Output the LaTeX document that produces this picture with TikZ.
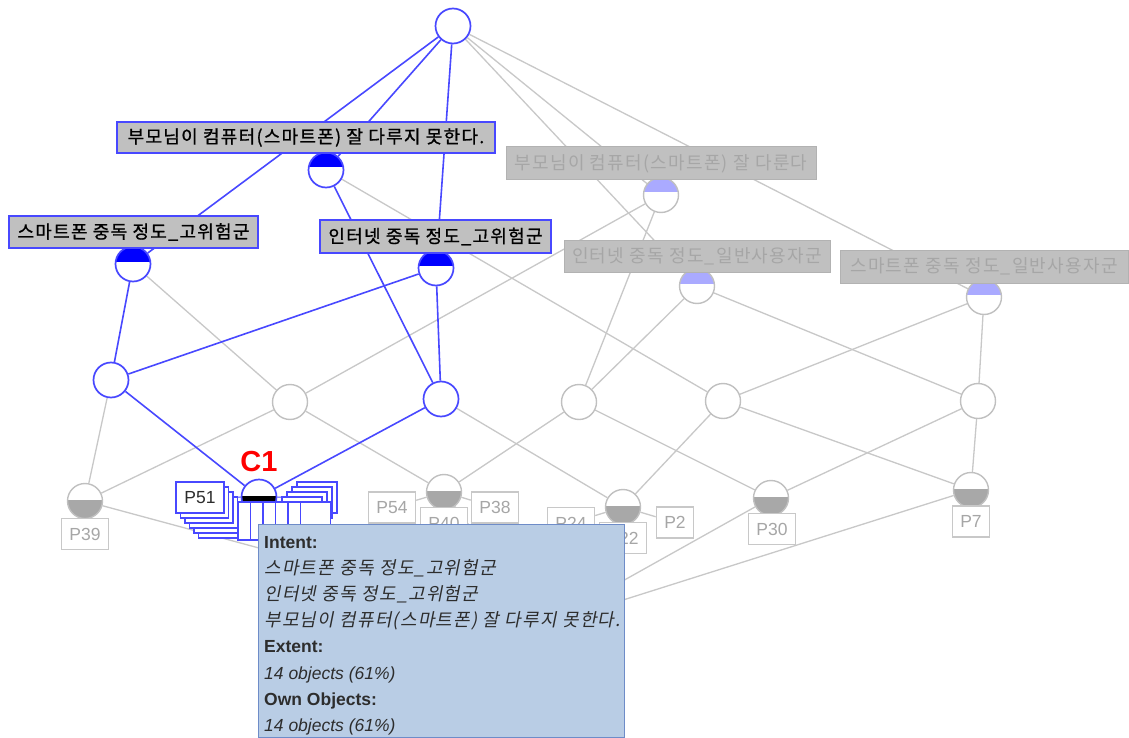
\documentclass[tikz,border=0pt]{standalone}
\usepackage{fontspec}
\setmainfont{Liberation Sans}
\newfontfamily\kr[LetterSpace=7]{Noto Sans CJK KR}
\newfontfamily\krb[LetterSpace=7,FakeBold=1]{Noto Sans CJK KR}
\newfontfamily\krit[LetterSpace=7,FakeSlant=0.2]{Noto Sans CJK KR}
\pgfdeclarelayer{edges}
\pgfdeclarelayer{top}
\pgfsetlayers{edges,main,top}
\definecolor{eblue}{RGB}{72,72,255}
\definecolor{fblue}{RGB}{0,0,255}
\definecolor{lblue}{RGB}{170,170,255}
\definecolor{egray}{RGB}{200,200,200}
\definecolor{cgray}{RGB}{192,192,192}
\definecolor{dgray}{RGB}{168,168,168}
\definecolor{boxgray}{RGB}{192,192,192}
\definecolor{boxline}{RGB}{178,178,178}
\definecolor{gtext}{RGB}{166,166,166}
\definecolor{tipfill}{RGB}{185,205,229}
\definecolor{tipline}{RGB}{110,140,200}
\definecolor{tiptext}{RGB}{45,45,45}
\tikzset{
  cn/.style={circle, minimum size=35pt, inner sep=0pt, fill=white, draw=cgray, line width=1.4pt},
  bn/.style={cn, draw=eblue, line width=1.7pt},
  topfill/.style={path picture={\fill[#1] (path picture bounding box.north west) rectangle ([yshift=2.5pt]path picture bounding box.east);}},
  botfill/.style={path picture={\fill[#1] ([yshift=1pt]path picture bounding box.west) rectangle (path picture bounding box.south east);}},
  lblA/.style={draw=eblue, line width=1.7pt, fill=boxgray, text=black, inner sep=0pt, font=\krb\fontsize{18}{20}\selectfont},
  lblG/.style={draw=boxline, line width=1pt, fill=boxgray, text=gtext, inner sep=0pt, font=\kr\fontsize{18}{20}\selectfont},
  pbox/.style={draw=egray, line width=1.3pt, fill=white, text=gtext, inner xsep=8pt, inner ysep=0pt, minimum height=31pt, font=\fontsize{17.5}{18}\selectfont},
  cbox/.style={draw=eblue, line width=1.3pt, fill=white, inner sep=0pt, minimum width=48pt, minimum height=31pt, text=tiptext, font=\fontsize{17.5}{18}\selectfont},
  ge/.style={draw=egray, line width=1.3pt},
  be/.style={draw=eblue, line width=1.6pt},
  tiphead/.style={anchor=base west, inner sep=0pt, text=tiptext, font=\bfseries\fontsize{17.5}{18}\selectfont},
  tipkr/.style={anchor=base west, inner sep=0pt, text=tiptext, font=\krit\fontsize{18}{20}\selectfont},
  tipit/.style={anchor=base west, inner sep=0pt, text=tiptext, font=\itshape\fontsize{17.5}{18}\selectfont},
}
\begin{document}
\begin{tikzpicture}[x=1pt,y=-1pt]
\useasboundingbox (0,0) rectangle (1129,738);
\begin{pgfonlayer}{edges}
\fill[white] (0,0) rectangle (1129,738);
\end{pgfonlayer}
% concept circles
\node[bn] (T) at (453,26) {};
\node[bn, topfill=fblue] (A) at (326,170) {};
\node[bn, topfill=fblue] (B) at (133,264) {};
\node[bn, topfill=fblue] (C) at (436,268) {};
\node[cn, topfill=lblue] (D) at (661,195) {};
\node[cn, topfill=lblue] (E) at (697,286) {};
\node[cn, topfill=lblue] (F) at (984,297) {};
\node[bn] (G1) at (111,380) {};
\node[cn] (G2) at (290,402) {};
\node[bn] (G3) at (441,399) {};
\node[cn] (G4) at (579,402) {};
\node[cn] (G5) at (723,401) {};
\node[cn] (G6) at (978,401) {};
\node[cn, botfill=dgray] (H1) at (85,501) {};
\node[bn, botfill=black] (C1) at (259,497) {};
\node[cn, botfill=dgray] (H3) at (444,492) {};
\node[cn, botfill=dgray] (H4) at (623,507) {};
\node[cn, botfill=dgray] (H5) at (771,498) {};
\node[cn, botfill=dgray] (H6) at (971,490) {};
\coordinate (Bot) at (544,625);
% attribute labels
\node[lblA, minimum width=378pt, minimum height=31pt] (LA) at (306,137.5) {부모님이 컴퓨터(스마트폰) 잘 다루지 못한다.};
\node[lblA, minimum width=249pt, minimum height=32pt] (LB) at (133.5,232) {스마트폰 중독 정도\_고위험군};
\node[lblA, minimum width=231pt, minimum height=33pt] (LC) at (435.5,236.5) {인터넷 중독 정도\_고위험군};
\node[lblG, minimum width=310pt, minimum height=33pt] (LD) at (661,163.5) {부모님이 컴퓨터(스마트폰) 잘 다룬다};
\node[lblG, minimum width=266pt, minimum height=32pt] (LE) at (697,256) {인터넷 중독 정도\_일반사용자군};
\node[lblG, minimum width=288pt, minimum height=33pt] (LF) at (984,266.5) {스마트폰 중독 정도\_일반사용자군};
% object labels
\node[pbox] (P39) at (85,534) {P39};
\node[pbox] (P54) at (392,507.5) {P54};
\node[pbox] (P38) at (495,507.5) {P38};
\node[pbox] (P40) at (444,523) {P40};
\node[pbox] (P24) at (571,523) {P24};
\node[pbox] (P22) at (623,538) {P22};
\node[pbox] (P2) at (675,522.5) {P2};
\node[pbox] (P30) at (772,529) {P30};
\node[pbox] (P7) at (971,521.5) {P7};
% C1 pile of object labels
\foreach \i in {5,4,3,2,1} {\node[cbox] (L\i) at ({200+4.5*\i},{497.5+5*\i}) {};}
\node[cbox] (P51) at (200,497.5) {P51};
\foreach \i in {0,1,2,3,4,5} {\node[cbox, minimum width=40pt] (R\i) at ({317-5*\i},{497.5+5*\i}) {};}
\foreach \j in {0,1,2,3,4,5} {\node[cbox, minimum width=30pt, minimum height=38pt] (M\j) at ({253+12.5*\j},521) {};}
\node[text=red, inner sep=0pt, font=\bfseries\fontsize{29}{30}\selectfont] (C1lab) at (259,462) {C1};
% edges
\begin{pgfonlayer}{edges}
\draw[ge] (T) -- (D);
\draw[ge] (T) -- (E);
\draw[ge] (T) -- (F);
\draw[ge] (B) -- (G2);
\draw[ge] (A) -- (G5);
\draw[ge] (D) -- (G2);
\draw[ge] (D) -- (G4);
\draw[ge] (E) -- (G4);
\draw[ge] (E) -- (G6);
\draw[ge] (F) -- (G5);
\draw[ge] (F) -- (G6);
\draw[ge] (G1) -- (H1);
\draw[ge] (G2) -- (H1);
\draw[ge] (G2) -- (H3);
\draw[ge] (G3) -- (H4);
\draw[ge] (G4) -- (H3);
\draw[ge] (G4) -- (H5);
\draw[ge] (G5) -- (H4);
\draw[ge] (G5) -- (H6);
\draw[ge] (G6) -- (H5);
\draw[ge] (G6) -- (H6);
\draw[ge] (H1) -- (Bot);
\draw[ge] (C1) -- (Bot);
\draw[ge] (H3) -- (Bot);
\draw[ge] (H4) -- (Bot);
\draw[ge] (H5) -- (Bot);
\draw[ge] (H6) -- (Bot);
\draw[ge] (P54) -- (H3);
\draw[ge] (P38) -- (H3);
\draw[ge] (P24) -- (H4);
\draw[ge] (P2) -- (H4);
\draw[be] (T) -- (A);
\draw[be] (T) -- (B);
\draw[be] (T) -- (C);
\draw[be] (B) -- (G1);
\draw[be] (C) -- (G1);
\draw[be] (C) -- (G3);
\draw[be] (A) -- (G3);
\draw[be] (G1) -- (C1);
\draw[be] (G3) -- (C1);
\draw[be, line width=1pt] (P51) -- (C1);
\draw[be, line width=1pt] (R0) -- (C1);
\end{pgfonlayer}
% tooltip
\begin{pgfonlayer}{top}
\node[draw=tipline, fill=tipfill, line width=1.2pt, minimum width=366pt, minimum height=213pt, anchor=north west, inner sep=0pt] (tip) at (258,524) {};
\node[tiphead] (t1) at (264,548) {Intent:};
\node[tipkr] (t2) at (264,574) {스마트폰 중독 정도\_고위험군};
\node[tipkr] (t3) at (264,600) {인터넷 중독 정도\_고위험군};
\node[tipkr] (t4) at (264,626) {부모님이 컴퓨터(스마트폰) 잘 다루지 못한다.};
\node[tiphead] (t5) at (264,652) {Extent:};
\node[tipit] (t6) at (264,679) {14 objects (61\%)};
\node[tiphead] (t7) at (264,705) {Own Objects:};
\node[tipit] (t8) at (264,731) {14 objects (61\%)};
\end{pgfonlayer}
\end{tikzpicture}
\end{document}
